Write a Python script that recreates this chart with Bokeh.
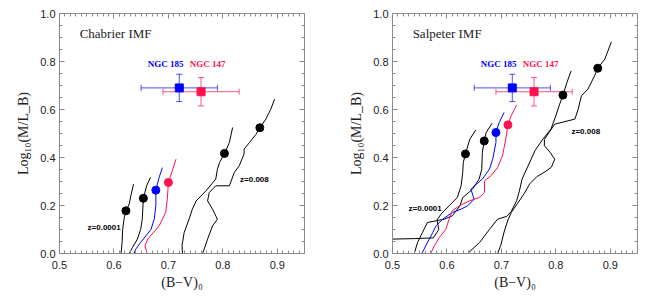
from bokeh.plotting import figure
from bokeh.layouts import row
from bokeh.models import (LinearAxis, SingleIntervalTicker, Range1d, Whisker,
                          ColumnDataSource, Label, PrintfTickFormatter, TeeHead,
                          CustomJSTickFormatter)
from bokeh.embed import file_html
from bokeh.resources import INLINE

# ---------------- data ----------------
# Chabrier IMF panel
chab_z1_x = [0.613, 0.615, 0.616, 0.619, 0.622, 0.628, 0.631, 0.636]
chab_z1_y = [0.0, 0.046, 0.10, 0.15, 0.178, 0.206, 0.24, 0.289]
chab_z2_x = [0.628, 0.634, 0.643, 0.649, 0.652, 0.653, 0.654, 0.660, 0.667]
chab_z2_y = [0.0, 0.025, 0.06, 0.10, 0.143, 0.185, 0.23, 0.282, 0.317]
chab_blue_x = [0.637, 0.640, 0.649, 0.668, 0.674, 0.677, 0.677, 0.683, 0.689]
chab_blue_y = [0.0, 0.018, 0.046, 0.10, 0.143, 0.199, 0.264, 0.317, 0.358]
chab_red_x = [0.661, 0.657, 0.662, 0.683, 0.695, 0.698, 0.700, 0.708, 0.714]
chab_red_y = [0.0, 0.032, 0.06, 0.115, 0.171, 0.226, 0.296, 0.351, 0.393]
chab_z3_x = [0.726, 0.725, 0.729, 0.738, 0.744, 0.751, 0.769, 0.787, 0.790, 0.794, 0.803, 0.812, 0.818]
chab_z3_y = [0.0, 0.032, 0.0875, 0.143, 0.185, 0.219, 0.261, 0.31, 0.351, 0.379, 0.417, 0.4625, 0.525]
chab_z4_x = [0.763, 0.772, 0.781, 0.790, 0.781, 0.772, 0.775, 0.787, 0.812, 0.821, 0.830, 0.839,
             0.839, 0.849, 0.861, 0.868, 0.879, 0.888, 0.895]
chab_z4_y = [0.0, 0.06, 0.115, 0.143, 0.185, 0.219, 0.254, 0.282, 0.282, 0.3375, 0.365, 0.414,
             0.435, 0.4625, 0.497, 0.524, 0.56, 0.601, 0.643]
chab_black_dot_x = [0.622, 0.654, 0.803, 0.868]
chab_black_dot_y = [0.178, 0.23, 0.417, 0.524]
chab_blue_dot = (0.677, 0.264)
chab_red_dot = (0.700, 0.296)

# Salpeter IMF panel
salp_z1_x = [0.500, 0.540, 0.575, 0.585, 0.582, 0.589, 0.604, 0.619, 0.626, 0.629, 0.630, 0.634, 0.642, 0.653]
salp_z1_y = [0.06, 0.062, 0.065, 0.10, 0.14, 0.164, 0.199, 0.233, 0.282, 0.3375, 0.379, 0.415, 0.476, 0.515]
salp_z2_x = [0.540, 0.546, 0.555, 0.564, 0.595, 0.610, 0.624, 0.629, 0.647, 0.659, 0.664, 0.665, 0.6685, 0.672, 0.683]
salp_z2_y = [0.0, 0.046, 0.0875, 0.129, 0.143, 0.157, 0.199, 0.233, 0.268, 0.31, 0.351, 0.421, 0.469, 0.504, 0.543]
salp_blue_x = [0.554, 0.561, 0.574, 0.580, 0.592, 0.610, 0.626, 0.638, 0.650, 0.644, 0.647, 0.665,
               0.678, 0.684, 0.690, 0.690, 0.696, 0.705]
salp_blue_y = [0.0, 0.032, 0.0875, 0.115, 0.143, 0.171, 0.185, 0.199, 0.226, 0.268, 0.275, 0.31,
               0.351, 0.393, 0.4625, 0.504, 0.546, 0.5875]
salp_red_x = [0.570, 0.577, 0.586, 0.598, 0.604, 0.610, 0.623, 0.641, 0.659, 0.669, 0.669, 0.681,
              0.693, 0.702, 0.708, 0.712, 0.718, 0.728]
salp_red_y = [0.0, 0.032, 0.067, 0.101, 0.143, 0.178, 0.199, 0.219, 0.233, 0.254, 0.303, 0.324,
              0.358, 0.407, 0.476, 0.536, 0.574, 0.619]
salp_z3_x = [0.638, 0.660, 0.678, 0.693, 0.710, 0.718, 0.728, 0.733, 0.738, 0.748, 0.762, 0.776,
             0.791, 0.800, 0.806, 0.813, 0.820, 0.828]
salp_z3_y = [0.0, 0.046, 0.10, 0.143, 0.155, 0.175, 0.22, 0.26, 0.31, 0.36, 0.43, 0.476,
             0.518, 0.574, 0.615, 0.66, 0.71, 0.761]
salp_z4_x = [0.693, 0.699, 0.705, 0.712, 0.718, 0.730, 0.742, 0.752, 0.765, 0.780, 0.792, 0.798,
             0.790, 0.779, 0.779, 0.798, 0.835, 0.841, 0.847, 0.859, 0.871, 0.877, 0.890, 0.902]
salp_z4_y = [0.0, 0.035, 0.09, 0.14, 0.17, 0.21, 0.25, 0.29, 0.32, 0.34, 0.36, 0.393,
             0.42, 0.449, 0.476, 0.539, 0.56, 0.601, 0.657, 0.685, 0.74, 0.772, 0.81, 0.882]
salp_black_dot_x = [0.634, 0.6685, 0.813, 0.877]
salp_black_dot_y = [0.415, 0.469, 0.66, 0.772]
salp_blue_dot = (0.690, 0.504)
salp_red_dot = (0.712, 0.536)

# observed galaxies (same in both panels)
gal_names = ["NGC 185", "NGC 147"]
gal_bv = [0.720, 0.760]
gal_bv_err = [0.070, 0.070]
gal_ml = [0.690, 0.674]
gal_ml_err = [0.057, 0.059]

x_ticks_interval = 0.1
y_ticks_interval = 0.2

BLUE = "#0000ff"
RED = "#ff1050"
GREY = "#8a8a8a"


def make_panel(title, curves_black, curve_blue, curve_red, bdots, bluedot, reddot,
               zlab1, zlab2, border_left, border_right):
    p = figure(frame_width=245, frame_height=240, output_backend="svg", toolbar_location=None,
               x_range=Range1d(0.5, 0.95), y_range=Range1d(0.0, 1.0),
               x_axis_location=None, y_axis_location=None,
               min_border_left=border_left, min_border_right=border_right,
               min_border_top=13, min_border_bottom=35)
    p.xgrid.visible = False
    p.ygrid.visible = False
    p.outline_line_color = GREY
    p.background_fill_color = "white"
    p.border_fill_color = "white"

    def style(ax, labels=True):
        ax.axis_line_color = GREY
        ax.major_tick_line_color = GREY
        ax.minor_tick_line_color = GREY
        ax.major_tick_in = 5
        ax.major_tick_out = 0
        ax.minor_tick_in = 3
        ax.minor_tick_out = 0
        ax.major_label_text_font = "Liberation Sans"
        ax.major_label_text_font_size = "11px"
        ax.major_label_text_color = "#222222"
        ax.axis_label_text_font = "Liberation Serif"
        ax.axis_label_text_font_size = "14px"
        ax.axis_label_text_font_style = "normal"
        ax.axis_label_text_color = "#222222"
        if not labels:
            ax.formatter = CustomJSTickFormatter(code="return '';")
            ax.major_label_standoff = 0

    xb = LinearAxis(ticker=SingleIntervalTicker(interval=x_ticks_interval, num_minor_ticks=10),
                    formatter=PrintfTickFormatter(format="%.1f"), axis_label="(B\u2212V)\u2080")
    style(xb)
    xb.major_label_standoff = 7
    xb.axis_label_standoff = 3
    p.add_layout(xb, "below")
    xt = LinearAxis(ticker=SingleIntervalTicker(interval=x_ticks_interval, num_minor_ticks=10))
    style(xt, labels=False)
    p.add_layout(xt, "above")
    yl = LinearAxis(ticker=SingleIntervalTicker(interval=y_ticks_interval, num_minor_ticks=4),
                    formatter=PrintfTickFormatter(format="%.1f"), axis_label="Log\u2081\u2080(M/L_B)")
    style(yl)
    yl.major_label_standoff = 4
    yl.axis_label_standoff = 6
    p.add_layout(yl, "left")
    yr = LinearAxis(ticker=SingleIntervalTicker(interval=y_ticks_interval, num_minor_ticks=4))
    style(yr, labels=False)
    p.add_layout(yr, "right")

    for cx, cy in curves_black:
        p.line(cx, cy, line_color="black", line_width=1)
    p.line(curve_blue[0], curve_blue[1], line_color=BLUE, line_width=1)
    p.line(curve_red[0], curve_red[1], line_color=RED, line_width=1)
    p.scatter(bdots[0], bdots[1], size=8, color="black")
    p.scatter([bluedot[0]], [bluedot[1]], size=8, color=BLUE)
    p.scatter([reddot[0]], [reddot[1]], size=8, color=RED)

    # galaxies with error bars
    for i, col in enumerate([BLUE, RED]):
        src = ColumnDataSource(dict(
            x=[gal_bv[i]], y=[gal_ml[i]],
            xl=[gal_bv[i] - gal_bv_err[i]], xu=[gal_bv[i] + gal_bv_err[i]],
            yl=[gal_ml[i] - gal_ml_err[i]], yu=[gal_ml[i] + gal_ml_err[i]]))
        wx = Whisker(source=src, base="y", lower="xl", upper="xu", dimension="width",
                     line_color=col, line_alpha=0.7, line_width=1,
                     lower_head=TeeHead(size=6, line_color=col, line_alpha=0.7),
                     upper_head=TeeHead(size=6, line_color=col, line_alpha=0.7))
        wy = Whisker(source=src, base="x", lower="yl", upper="yu", dimension="height",
                     line_color=col, line_alpha=0.7, line_width=1,
                     lower_head=TeeHead(size=6, line_color=col, line_alpha=0.7),
                     upper_head=TeeHead(size=6, line_color=col, line_alpha=0.7))
        p.add_layout(wx)
        p.add_layout(wy)
        p.scatter("x", "y", source=src, marker="square", size=8, color=col)

    p.add_layout(Label(x=0.695, y=0.79, text=gal_names[0], text_color=BLUE,
                       text_font="Liberation Serif", text_font_size="9px", text_font_style="bold",
                       text_align="center", text_baseline="middle"))
    p.add_layout(Label(x=0.772, y=0.79, text=gal_names[1], text_color=RED,
                       text_font="Liberation Serif", text_font_size="9px", text_font_style="bold",
                       text_align="center", text_baseline="middle"))
    p.add_layout(Label(x=0.537, y=0.915, text=title, text_color="#222222",
                       text_font="Liberation Serif", text_font_size="13px",
                       text_align="left", text_baseline="middle"))
    p.add_layout(Label(x=zlab1[0], y=zlab1[1], text="z=0.0001", text_color="black",
                       text_font="Liberation Sans", text_font_size="8px", text_font_style="bold",
                       text_align="center", text_baseline="middle"))
    p.add_layout(Label(x=zlab2[0], y=zlab2[1], text="z=0.008", text_color="black",
                       text_font="Liberation Sans", text_font_size="8px", text_font_style="bold",
                       text_align="center", text_baseline="middle"))
    return p


p1 = make_panel("Chabrier IMF",
                [(chab_z1_x, chab_z1_y), (chab_z2_x, chab_z2_y), (chab_z3_x, chab_z3_y), (chab_z4_x, chab_z4_y)],
                (chab_blue_x, chab_blue_y), (chab_red_x, chab_red_y),
                (chab_black_dot_x, chab_black_dot_y), chab_blue_dot, chab_red_dot,
                (0.582, 0.108), (0.858, 0.307), 59, 20)
p2 = make_panel("Salpeter IMF",
                [(salp_z1_x, salp_z1_y), (salp_z2_x, salp_z2_y), (salp_z3_x, salp_z3_y), (salp_z4_x, salp_z4_y)],
                (salp_blue_x, salp_blue_y), (salp_red_x, salp_red_y),
                (salp_black_dot_x, salp_black_dot_y), salp_blue_dot, salp_red_dot,
                (0.56, 0.189), (0.855, 0.507), 68, 11)

layout = row(p1, p2, spacing=0)
open("out.html", "w").write(file_html(layout, INLINE))
